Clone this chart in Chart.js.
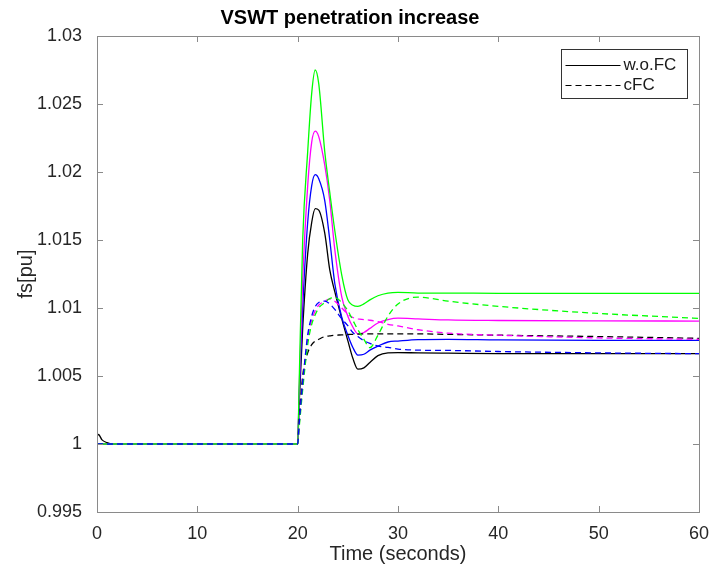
<!DOCTYPE html>
<html>
<head>
<meta charset="utf-8">
<script src="https://cdn.jsdelivr.net/npm/chart.js@4.4.0/dist/chart.umd.min.js"></script>
<style>
  body { margin: 0; background: #fff; }
  #wrap { width: 712px; height: 570px; position: relative; }
</style>
</head>
<body>
<div id="wrap"><canvas id="fsChart"></canvas></div>
<script>
// sample times (s)
const timeSec = [0, 0.15, 0.5, 1, 1.5, 20, 20.15, 20.5, 21, 21.4, 21.75, 22.1, 22.7, 23.2, 23.7, 24.4, 25, 25.5, 26, 26.6, 27.2, 28, 29, 30, 32, 35, 40, 50, 60];

// without frequency control (solid)
const blackSolid   = [1.0006, 1.0007, 1.0003, 1.0001, 1, 1, 1.0030, 1.0085, 1.0140, 1.0163, 1.0173, 1.0172, 1.0155, 1.0128, 1.0112, 1.0092, 1.0076, 1.0063, 1.0055, 1.0056, 1.0060, 1.0065, 1.0067, 1.00672, 1.0067, 1.00668, 1.00665, 1.00665, 1.00665];
const blueSolid    = [1, 1, 1, 1, 1, 1, 1.0035, 1.0100, 1.0163, 1.0190, 1.0198, 1.0195, 1.0179, 1.0150, 1.0118, 1.0093, 1.0080, 1.0071, 1.00654, 1.0066, 1.0069, 1.0072, 1.0075, 1.00757, 1.00768, 1.0077, 1.00765, 1.00762, 1.00762];
const magentaSolid = [1, 1, 1, 1, 1, 1, 1.0040, 1.0120, 1.0190, 1.0222, 1.0230, 1.0226, 1.0205, 1.0179, 1.0143, 1.0108, 1.0094, 1.0086, 1.0081, 1.0082, 1.0085, 1.0089, 1.00915, 1.00925, 1.0092, 1.00912, 1.00908, 1.00905, 1.00904];
const greenSolid   = [1, 1, 1, 1, 1, 1, 1.0045, 1.0150, 1.0215, 1.0258, 1.0275, 1.0265, 1.0215, 1.0185, 1.0157, 1.0124, 1.0106, 1.0102, 1.01012, 1.0103, 1.0106, 1.0109, 1.0111, 1.01115, 1.0111, 1.0111, 1.01108, 1.01108, 1.01108];

// with cFC (dashed)
const blackDashed   = [1, 1, 1, 1, 1, 1, 1.0018, 1.0050, 1.0067, 1.0073, 1.00757, 1.0077, 1.0079, 1.00795, 1.0080, 1.00802, 1.00805, 1.00806, 1.00808, 1.0081, 1.0081, 1.0081, 1.0081, 1.0081, 1.0081, 1.00806, 1.0080, 1.0079, 1.00777];
const blueDashed    = [1, 1, 1, 1, 1, 1, 1.0015, 1.0045, 1.0080, 1.0094, 1.0101, 1.0104, 1.0105, 1.0103, 1.0099, 1.0092, 1.0087, 1.0082, 1.0079, 1.0076, 1.0074, 1.0072, 1.0071, 1.00698, 1.0069, 1.00688, 1.0068, 1.0067, 1.00664];
const magentaDashed = [1, 1, 1, 1, 1, 1, 1.0014, 1.0043, 1.0078, 1.0091, 1.0098, 1.0102, 1.0105, 1.01066, 1.0105, 1.0100, 1.00954, 1.0093, 1.0092, 1.00915, 1.0091, 1.0090, 1.0088, 1.00868, 1.0084, 1.00815, 1.0080, 1.0078, 1.0077];
const greenDashed   = [1, 1, 1, 1, 1, 1, 1.0012, 1.0040, 1.0073, 1.0088, 1.0095, 1.0100, 1.0104, 1.0107, 1.01076, 1.0104, 1.0098, 1.0091, 1.0084, 1.0077, 1.00708, 1.0080, 1.0094, 1.0103, 1.0108, 1.0105, 1.01012, 1.0096, 1.00924];

const legendItems = ['w.o.FC', 'cFC'];

function toPoints(values) {
    return values.map((v, i) => ({ x: timeSec[i], y: v }));
}

function lineSet(label, values, color, dashed) {
    return {
        label: label,
        data: toPoints(values),
        borderColor: color,
        borderWidth: 1.3,
        borderDash: dashed ? [6, 4] : [],
        pointRadius: 0,
        fill: false,
        cubicInterpolationMode: 'monotone'
    };
}

// index 0 is drawn on top
const datasets = [
    lineSet('blue cFC', blueDashed, '#0000ff', true),
    lineSet('green cFC', greenDashed, '#00ff00', true),
    lineSet('magenta cFC', magentaDashed, '#ff00ff', true),
    lineSet('black cFC', blackDashed, '#000000', true),
    lineSet('green w.o.FC', greenSolid, '#00ff00', false),
    lineSet('magenta w.o.FC', magentaSolid, '#ff00ff', false),
    lineSet('blue w.o.FC', blueSolid, '#0000ff', false),
    lineSet('black w.o.FC', blackSolid, '#000000', false)
];

// box, inward ticks and the legend box, like the matlab figure
const matlabAxes = {
    id: 'matlabAxes',
    afterDraw(chart) {
        const ctx = chart.ctx;
        const a = chart.chartArea;
        const tick = 6;
        ctx.save();
        ctx.strokeStyle = '#8a8a8a';
        ctx.lineWidth = 1;
        ctx.setLineDash([]);
        ctx.strokeRect(Math.round(a.left) + 0.5, Math.round(a.top) + 0.5, Math.round(a.width), Math.round(a.height));

        const xs = chart.scales.x;
        xs.ticks.forEach(t => {
            const px = Math.round(xs.getPixelForValue(t.value)) + 0.5;
            ctx.beginPath();
            ctx.moveTo(px, a.bottom); ctx.lineTo(px, a.bottom - tick);
            ctx.moveTo(px, a.top); ctx.lineTo(px, a.top + tick);
            ctx.stroke();
        });
        const ys = chart.scales.y;
        ys.ticks.forEach(t => {
            const py = Math.round(ys.getPixelForValue(t.value)) + 0.5;
            ctx.beginPath();
            ctx.moveTo(a.left, py); ctx.lineTo(a.left + tick, py);
            ctx.moveTo(a.right, py); ctx.lineTo(a.right - tick, py);
            ctx.stroke();
        });

        // legend
        const w = 126, h = 49;
        const lx = Math.round(a.right - 12 - w) + 0.5;
        const ly = Math.round(a.top + 13) + 0.5;
        ctx.fillStyle = '#fff';
        ctx.fillRect(lx, ly, w, h);
        ctx.strokeStyle = '#333';
        ctx.strokeRect(lx, ly, w, h);
        ctx.font = '17px "Liberation Sans", Arial, sans-serif';
        ctx.textBaseline = 'middle';
        ctx.fillStyle = '#1a1a1a';
        legendItems.forEach((txt, i) => {
            const yy = ly + 16 + i * 20;
            ctx.beginPath();
            ctx.strokeStyle = '#000';
            ctx.lineWidth = 1.2;
            ctx.setLineDash(i === 1 ? [6, 4] : []);
            ctx.moveTo(lx + 4, yy); ctx.lineTo(lx + 59, yy);
            ctx.stroke();
            ctx.fillText(txt, lx + 62, yy);
        });
        ctx.restore();
    }
};

const fontFamily = '"Liberation Sans", Arial, sans-serif';

new Chart(document.getElementById('fsChart').getContext('2d'), {
    type: 'line',
    data: { datasets: datasets },
    plugins: [matlabAxes],
    options: {
        responsive: true,
        maintainAspectRatio: false,
        animation: false,
        layout: { padding: { left: 0, right: 12, top: 0, bottom: 0 } },
        plugins: {
            legend: { display: false },
            tooltip: { enabled: false },
            title: {
                display: true,
                text: 'VSWT penetration increase',
                color: '#000',
                font: { family: fontFamily, size: 20, weight: 'bold' },
                padding: { top: 6, bottom: 6 }
            }
        },
        scales: {
            x: {
                type: 'linear',
                min: 0,
                max: 60,
                grid: { display: false },
                border: { display: false },
                ticks: {
                    stepSize: 10,
                    color: '#262626',
                    padding: 3,
                    maxRotation: 0,
                    font: { family: fontFamily, size: 18 }
                },
                title: {
                    display: true,
                    text: 'Time (seconds)',
                    color: '#262626',
                    font: { family: fontFamily, size: 20 },
                    padding: { top: 0, bottom: 4 }
                },
                afterFit: function (scale) { scale.height = 58; }
            },
            y: {
                min: 0.995,
                max: 1.03,
                grid: { display: false },
                border: { display: false },
                ticks: {
                    stepSize: 0.005,
                    color: '#262626',
                    padding: 7,
                    font: { family: fontFamily, size: 18 },
                    callback: function (value) { return parseFloat(value.toFixed(3)).toString(); }
                },
                title: {
                    display: true,
                    text: 'fs[pu]',
                    color: '#262626',
                    font: { family: fontFamily, size: 20 },
                    padding: { top: 14, bottom: 0 }
                },
                afterFit: function (scale) { scale.width = 97; }
            }
        }
    }
});
</script>
</body>
</html>
